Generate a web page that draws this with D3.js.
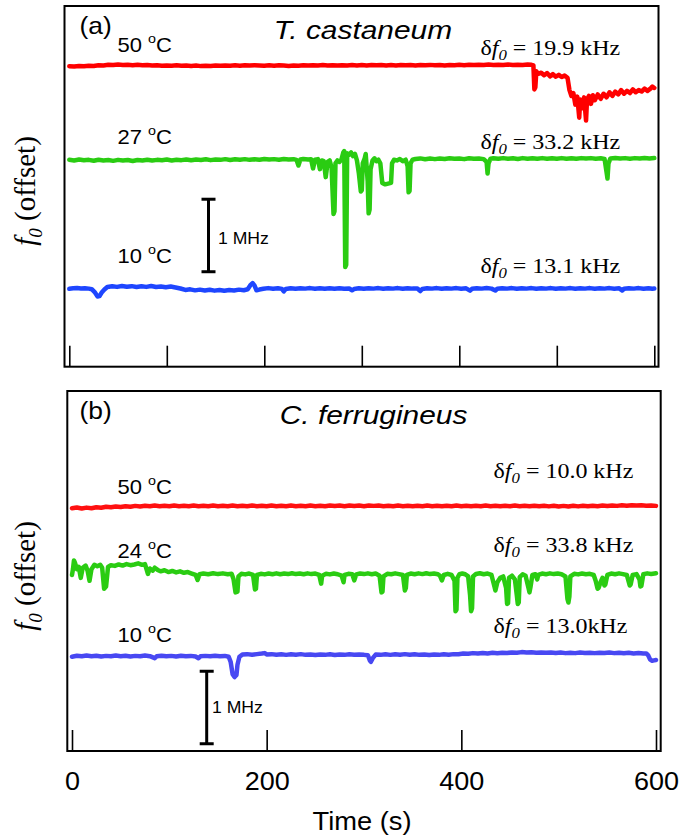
<!DOCTYPE html>
<html>
<head>
<meta charset="utf-8">
<script src="https://cdn.jsdelivr.net/npm/d3@7"></script>
<style>
body { margin: 0; background: #fff; }
</style>
</head>
<body>
<svg id="chart" width="683" height="840"></svg>
<script>
// time axis (s)
const timeDomain = [0, 600]
const ticksA = [0, 100, 200, 300, 400, 500, 600]
const ticksB = [0, 200, 400, 600]

// trace baselines in MHz (vertical offset of each trace), order: 50C, mid, 10C
const offsetA = [4.155, 2.865, 1.079]
const offsetB = [3.379, 2.448, 1.31]
const scaleBarA = [1.31, 2.31]   // 1 MHz bar
const scaleBarB = [0.10, 1.10]

const tempA = ["50", "27", "10"]
const tempB = ["50", "24", "10"]
const deltaA = ["19.9 kHz", "33.2 kHz", "13.1 kHz"]
const deltaB = ["10.0 kHz", "33.8 kHz", "13.0kHz"]

// f0 deviation from baseline, [time s, kHz]
const redA = [[0,-10],[5,-14],[10,-6],[15,-12],[20,-3],[25,-7],[30,4],[35,0],[40,9],[45,5],[50,12],[55,7],[60,10],[65,4],[70,9],[75,2],[80,6],[85,-1],[90,3],[95,-4],[100,1],[105,-3],[110,2],[115,-5],[120,0],[125,-6],[130,-2],[135,-9],[140,-3],[145,-7],[150,0],[155,-5],[160,1],[165,-4],[170,2],[175,-3],[180,3],[185,-2],[190,4],[195,0],[200,-4],[205,2],[210,-3],[215,3],[220,-2],[225,-6],[230,1],[235,-3],[240,3],[245,-2],[250,4],[255,0],[260,5],[265,-1],[270,3],[275,-2],[280,4],[285,0],[290,5],[295,1],[300,6],[305,1],[310,7],[315,2],[320,6],[325,0],[330,5],[335,1],[340,7],[345,2],[350,6],[355,1],[360,7],[365,3],[370,8],[375,2],[380,6],[385,1],[390,7],[395,3],[400,9],[405,4],[410,10],[415,5],[420,11],[425,6],[430,12],[435,7],[440,11],[445,5],[450,12],[455,7],[460,11],[465,8],[470,13],[474,9],[476,0],[477,-330],[478,-300],[479,-80],[481,-115],[484,-100],[487,-135],[490,-105],[493,-150],[496,-120],[499,-155],[502,-130],[505,-160],[508,-140],[511,-170],[513,-340],[515,-420],[517,-380],[519,-540],[521,-430],[523,-720],[524,-470],[526,-590],[528,-440],[530,-760],[531,-470],[533,-420],[535,-530],[537,-410],[539,-480],[542,-400],[545,-460],[548,-390],[551,-440],[554,-370],[557,-420],[560,-360],[563,-400],[566,-340],[569,-390],[572,-350],[575,-380],[578,-330],[581,-370],[584,-340],[587,-360],[590,-320],[593,-350],[596,-320],[598,-290],[600,-310]]

const greenA = [[0,-10],[5,-20],[10,-8],[15,-18],[20,-12],[25,-25],[30,-10],[35,-20],[40,-14],[45,-26],[50,-12],[55,-22],[60,-15],[65,-28],[70,-14],[75,-20],[80,-10],[85,-22],[90,-12],[95,-18],[100,-8],[105,-20],[110,-10],[115,-16],[120,-6],[125,-18],[130,-8],[135,-14],[140,-4],[145,-16],[150,-6],[155,-12],[160,-2],[165,-14],[170,-4],[175,-10],[180,-2],[185,-12],[190,-4],[195,-10],[200,0],[205,-8],[210,-2],[215,-10],[220,0],[225,-6],[230,-2],[233,-12],[235,-90],[237,-8],[240,0],[245,-8],[248,-4],[250,-130],[252,-10],[255,-2],[257,-140],[259,-20],[261,-30],[263,-250],[265,-40],[267,-20],[269,-120],[271,-760],[272,-720],[273,-60],[275,-20],[277,-40],[279,-10],[281,90],[282,110],[283,-1490],[284,-1460],[285,80],[287,60],[289,90],[291,40],[293,70],[295,-20],[297,-200],[299,-450],[300,-430],[301,-60],[303,10],[304,70],[306,-300],[307,-750],[308,-700],[309,-140],[311,-20],[313,10],[315,-30],[317,-10],[319,-60],[321,-330],[324,-350],[327,-340],[330,-330],[331,-60],[333,-10],[336,-20],[339,0],[342,-30],[345,-10],[347,-100],[348,-460],[349,-440],[350,-60],[352,-10],[355,0],[360,8],[365,-4],[370,6],[375,-2],[380,8],[385,0],[390,10],[395,2],[400,8],[405,-2],[410,10],[415,2],[420,8],[425,-2],[428,-40],[429,-200],[430,-60],[432,4],[435,10],[440,2],[445,12],[450,4],[455,10],[460,0],[465,12],[470,4],[475,10],[480,2],[485,12],[490,4],[495,10],[500,2],[505,12],[510,4],[515,10],[520,2],[525,12],[530,6],[535,12],[540,4],[545,10],[549,0],[551,-180],[552,-270],[553,-60],[555,8],[560,14],[565,6],[570,12],[575,4],[580,12],[585,6],[590,14],[595,8],[600,12]]

const blueA = [[0,-5],[4,2],[8,6],[12,0],[16,4],[20,-2],[23,-10],[26,-50],[29,-110],[31,-105],[33,-60],[36,-15],[39,20],[44,30],[49,22],[54,34],[59,24],[64,32],[69,20],[74,30],[79,22],[84,34],[89,20],[94,28],[99,18],[104,26],[109,14],[114,0],[119,-20],[124,-12],[129,-26],[134,-16],[139,-28],[144,-18],[149,-30],[154,-20],[159,-32],[164,-22],[169,-28],[174,-16],[179,-24],[183,-10],[186,50],[188,75],[190,40],[192,-25],[195,-15],[199,-5],[204,5],[209,-3],[214,4],[218,-6],[220,-40],[222,-8],[227,2],[232,-4],[237,4],[242,-2],[247,5],[252,-3],[257,4],[262,-4],[267,3],[272,-3],[277,4],[282,-4],[287,0],[290,-25],[292,-8],[297,2],[302,-4],[307,4],[312,-2],[317,5],[322,-3],[327,4],[332,-2],[337,5],[342,-3],[347,4],[352,-2],[357,0],[360,-35],[362,-6],[367,4],[372,-2],[377,5],[382,-3],[387,4],[392,-2],[397,5],[402,-3],[407,2],[411,-30],[413,-4],[418,4],[423,-2],[428,5],[433,-2],[437,-28],[439,-4],[444,4],[449,-2],[454,5],[459,-3],[464,4],[469,-2],[474,5],[479,-3],[484,4],[489,-2],[494,5],[499,-3],[504,4],[509,-2],[514,5],[519,-3],[524,4],[529,-2],[534,5],[539,-3],[544,4],[549,-2],[554,5],[559,-3],[564,2],[567,-28],[569,-4],[574,4],[579,-2],[584,5],[589,-3],[594,3],[598,-4],[600,-2]]

const redB = [[0,-30],[5,-20],[10,-34],[15,-22],[20,-30],[25,-16],[30,-24],[35,-10],[40,-18],[45,-6],[50,-14],[55,-2],[60,-10],[65,2],[70,-6],[75,4],[80,-4],[85,6],[90,-2],[95,4],[100,-4],[105,6],[110,-2],[115,4],[120,-4],[125,6],[130,-2],[135,5],[140,-3],[145,6],[150,-2],[155,4],[160,-4],[165,6],[170,-2],[175,5],[180,-3],[185,6],[190,-2],[195,4],[200,-4],[205,6],[210,-2],[215,5],[220,-3],[225,6],[230,-2],[235,4],[240,-4],[245,6],[250,-2],[255,5],[260,-3],[265,8],[270,0],[275,6],[280,-2],[285,8],[290,0],[295,6],[300,-2],[305,8],[310,2],[315,6],[320,-2],[325,5],[330,-3],[335,6],[340,-2],[345,4],[350,-4],[355,5],[360,-3],[365,6],[370,-2],[375,4],[380,-4],[385,5],[390,-3],[395,6],[400,-2],[405,4],[410,-4],[415,5],[420,-3],[425,6],[430,-2],[435,4],[440,-4],[445,5],[450,-3],[455,6],[460,-2],[465,4],[470,-4],[475,5],[480,-3],[485,4],[490,-5],[495,3],[500,-6],[505,2],[510,-6],[515,3],[520,-5],[525,4],[530,-4],[535,5],[540,-2],[545,6],[550,0],[555,8],[560,2],[565,10],[570,4],[575,12],[580,6],[585,10],[590,4],[595,8],[600,2]]

const greenB = [[0,-20],[1,60],[2,180],[3,150],[5,60],[7,90],[9,-60],[11,80],[14,110],[16,40],[18,-100],[20,60],[23,120],[26,100],[29,120],[31,80],[33,-210],[35,-180],[37,90],[40,115],[44,105],[48,125],[52,110],[56,130],[60,115],[64,125],[68,140],[72,120],[75,130],[78,-5],[80,70],[83,40],[85,80],[88,50],[91,30],[95,45],[99,20],[103,35],[107,15],[111,30],[115,10],[119,20],[123,0],[127,-20],[129,-90],[131,-10],[135,0],[140,-10],[145,4],[150,-8],[155,2],[160,-10],[164,-4],[166,-80],[168,-260],[170,-250],[171,-40],[174,-4],[178,-12],[182,0],[186,-20],[188,-220],[189,-210],[190,-20],[194,-4],[198,-12],[202,0],[206,-10],[210,2],[214,-10],[218,0],[222,-8],[226,4],[230,-8],[234,0],[238,-10],[242,2],[246,-8],[250,0],[254,-20],[256,-140],[257,-30],[261,-4],[265,-12],[269,0],[273,-10],[277,-30],[279,-120],[280,-20],[284,-4],[288,-10],[290,-95],[292,-12],[296,0],[300,-8],[304,2],[308,-10],[312,0],[316,-30],[318,-260],[319,-250],[320,-40],[324,-4],[328,-10],[332,2],[336,-8],[340,-20],[342,-235],[343,-200],[344,-20],[348,0],[352,-10],[356,2],[360,-8],[364,4],[368,-8],[372,0],[376,-10],[378,-30],[380,-95],[382,-20],[386,-4],[390,-20],[393,-100],[394,-520],[395,-500],[396,-60],[398,-10],[401,0],[404,-10],[407,-40],[409,-300],[410,-520],[411,-480],[412,-40],[415,-6],[419,4],[423,-10],[427,0],[431,-20],[434,-180],[435,-235],[437,-120],[440,-60],[443,-40],[446,-200],[447,-420],[448,-410],[449,-60],[452,-30],[455,-80],[457,-300],[458,-420],[459,-400],[460,-50],[463,-10],[466,-30],[469,-200],[470,-260],[471,-190],[473,-20],[476,-10],[478,-80],[479,-20],[483,0],[487,-10],[491,2],[495,-8],[499,0],[503,-10],[507,-40],[509,-350],[510,-400],[511,-320],[512,-40],[516,-4],[520,-12],[524,0],[528,-10],[532,-4],[536,-20],[538,-100],[540,-210],[541,-200],[543,-120],[545,-60],[547,-165],[548,-150],[550,-20],[554,0],[558,-10],[562,2],[566,-8],[570,-20],[573,-165],[574,-150],[576,-20],[580,-8],[583,-80],[584,-180],[585,-170],[587,-10],[591,2],[595,-6],[600,4]]

const blueB = [[0,-10],[5,4],[10,-4],[15,6],[20,-2],[25,4],[30,-6],[35,2],[40,-4],[45,6],[50,-2],[55,4],[60,-6],[65,2],[70,-4],[75,6],[80,-2],[85,-30],[87,-4],[92,4],[97,-4],[102,2],[107,-6],[112,4],[117,-2],[122,2],[127,-6],[130,-30],[132,-4],[137,2],[142,-4],[147,4],[152,-2],[157,2],[161,-10],[163,-80],[165,-250],[167,-290],[169,-260],[170,-120],[172,-10],[175,20],[180,26],[185,18],[190,26],[195,34],[198,40],[200,22],[205,26],[210,18],[215,24],[220,16],[225,24],[230,18],[235,26],[240,16],[245,22],[250,14],[255,22],[260,16],[265,24],[270,14],[275,22],[280,16],[285,24],[290,18],[295,22],[300,16],[304,10],[306,-60],[307,-80],[309,-30],[312,20],[317,16],[322,24],[327,16],[332,24],[337,18],[342,26],[347,18],[352,24],[357,16],[362,22],[367,14],[372,22],[377,16],[382,24],[387,18],[392,26],[397,24],[402,36],[407,30],[412,40],[417,34],[422,42],[427,36],[432,44],[437,38],[442,46],[447,42],[452,50],[457,46],[462,54],[467,48],[472,52],[477,46],[482,50],[487,44],[492,50],[497,42],[502,48],[507,40],[512,46],[517,40],[522,48],[527,42],[532,46],[537,40],[542,46],[547,42],[552,48],[557,40],[562,46],[567,38],[572,44],[577,36],[582,42],[587,34],[590,36],[592,10],[594,-50],[596,-65],[598,-60],[600,-55]]

const seriesA = [redA, greenA, blueA]
const seriesB = [redB, greenB, blueB]
const colorsA = ["#ff0000", "#2acc12", "#1e46ff"]
const colorsB = ["#ff1010", "#2acc12", "#4848f2"]

const svg = d3.select("#chart")

const panels = [
  { id: "a", label: "(a)", title: "T. castaneum", left: 64.5, right: 658.5, top: 6, bottom: 366.7,
    x0: 69.3, x1: 654.3, ticks: ticksA, showLabels: false, offsets: offsetA, series: seriesA, colors: colorsA,
    temps: tempA, deltas: deltaA, bar: scaleBarA, barX: 208.5,
    tempY: [52.3, 144, 262.7], deltaY: [55, 149.3, 273.3], deltaX: 480.4, mhz: [218, 244], ylabY: 191 },
  { id: "b", label: "(b)", title: "C. ferrugineus", left: 67.3, right: 660.7, top: 391, bottom: 751,
    x0: 72, x1: 656, ticks: ticksB, showLabels: true, offsets: offsetB, series: seriesB, colors: colorsB,
    temps: tempB, deltas: deltaB, bar: scaleBarB, barX: 206.7,
    tempY: [494, 558.3, 641.7], deltaY: [478.3, 551.7, 633.3], deltaX: 493.5, mhz: [212, 713], ylabY: 576 }
]

const pxPerMHz = 72.5

function stretched(g, x, y, sx) {
  return g.append("text").attr("transform", `translate(${x},${y}) scale(${sx},1)`)
}

panels.forEach(p => {
  const g = svg.append("g").attr("class", "panel-" + p.id)
  const x = d3.scaleLinear().domain(timeDomain).range([p.x0, p.x1])
  const y = d3.scaleLinear().domain([0, (p.bottom - p.top) / pxPerMHz]).range([p.bottom, p.top])

  // traces
  p.series.forEach((s, i) => {
    const line = d3.line()
      .x(d => x(d[0]))
      .y(d => y(p.offsets[i] + d[1] / 1000))
    g.append("path")
      .datum(s)
      .attr("d", line)
      .attr("fill", "none")
      .attr("stroke", p.colors[i])
      .attr("stroke-width", 4.5)
      .attr("stroke-linejoin", "round")
      .attr("stroke-linecap", "round")
  })

  // frame
  g.append("rect")
    .attr("x", p.left).attr("y", p.top)
    .attr("width", p.right - p.left).attr("height", p.bottom - p.top)
    .attr("fill", "none").attr("stroke", "#000").attr("stroke-width", 2)

  // inward ticks on bottom axis
  const axis = d3.axisBottom(x).tickValues(p.ticks).tickSizeInner(-21).tickSizeOuter(0)
    .tickFormat(p.showLabels ? d3.format("d") : "")
  const ax = g.append("g").attr("transform", `translate(0,${p.bottom})`).call(axis)
  ax.select(".domain").remove()
  ax.selectAll(".tick line").attr("stroke", "#000").attr("stroke-width", 1.6)
  ax.selectAll(".tick text")
    .attr("font-family", "Arial, 'Liberation Sans', sans-serif")
    .attr("font-size", 25).attr("fill", "#000")
    .attr("dy", null).attr("y", 39)
    .attr("transform", "scale(1.08,1)")

  // 1 MHz scale bar
  const bar = g.append("g").attr("stroke", "#000").attr("stroke-width", 3)
  bar.append("line").attr("x1", p.barX).attr("x2", p.barX).attr("y1", y(p.bar[0])).attr("y2", y(p.bar[1]))
  p.bar.forEach(v => bar.append("line")
    .attr("x1", p.barX - 7).attr("x2", p.barX + 7).attr("y1", y(v)).attr("y2", y(v)))
  stretched(g, p.mhz[0], p.mhz[1], 1.1)
    .attr("font-family", "Arial, 'Liberation Sans', sans-serif").attr("font-size", 16)
    .text("1 MHz")

  // panel letter and title
  stretched(g, 79.5, p.top + 27.5, 1.1)
    .attr("font-family", "Arial, 'Liberation Sans', sans-serif").attr("font-size", 24)
    .text(p.label)
  stretched(g, p.id === "a" ? 273.8 : 279.7, p.top + 33.3, 1.15)
    .attr("font-family", "Arial, 'Liberation Sans', sans-serif").attr("font-size", 26)
    .attr("font-style", "italic")
    .text(p.title)

  // temperature labels
  p.temps.forEach((t, i) => {
    const tx = stretched(g, 117.5, p.tempY[i], 1.1)
      .attr("font-family", "Arial, 'Liberation Sans', sans-serif").attr("font-size", 20)
    tx.append("tspan").text(t + " ")
    tx.append("tspan").attr("font-size", 13).attr("dy", -9).text("o")
    tx.append("tspan").attr("dy", 9).text("C")
  })

  // delta f0 labels
  p.deltas.forEach((dtxt, i) => {
    const tx = stretched(g, p.deltaX, p.deltaY[i], 1.2)
      .attr("font-family", "'Times New Roman', 'Liberation Serif', serif").attr("font-size", 20)
    tx.append("tspan").text("δ")
    tx.append("tspan").attr("font-style", "italic").text("f")
    tx.append("tspan").attr("font-style", "italic").attr("font-size", 14).attr("dy", 5).text("0")
    tx.append("tspan").attr("dy", -5).text(" = " + dtxt)
  })

  // y label
  const yl = g.append("text")
    .attr("transform", `translate(35,${p.ylabY}) rotate(-90)`)
    .attr("text-anchor", "middle")
    .attr("font-family", "'Times New Roman', 'Liberation Serif', serif").attr("font-size", 29)
  yl.append("tspan").attr("font-style", "italic").text("f")
  yl.append("tspan").attr("font-style", "italic").attr("font-size", 19).attr("dy", 7).text("0")
  yl.append("tspan").attr("dy", -7).text(" (offset)")
})

// x-axis title
svg.append("text")
  .attr("transform", "translate(362,830) scale(1.05,1)")
  .attr("text-anchor", "middle")
  .attr("font-family", "Arial, 'Liberation Sans', sans-serif").attr("font-size", 26)
  .text("Time (s)")
</script>
</body>
</html>
